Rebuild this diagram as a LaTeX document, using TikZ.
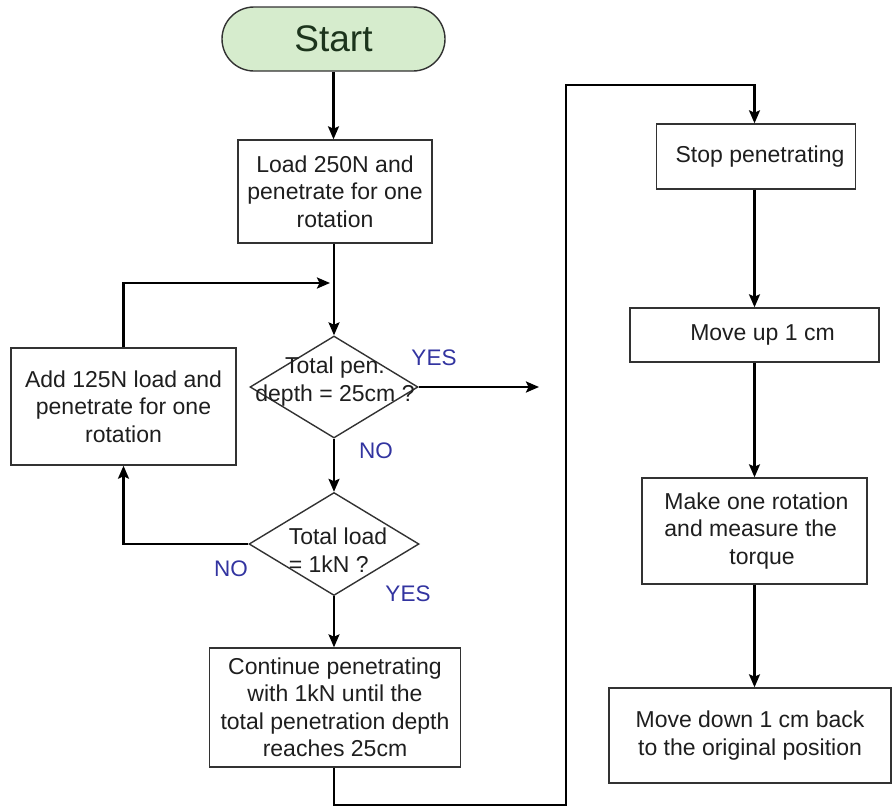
\documentclass[tikz,border=0pt]{standalone}
\usepackage{fontspec}
\setmainfont{Liberation Sans}
\usetikzlibrary{shapes.geometric,arrows.meta}
\definecolor{lblblue}{RGB}{50,52,160}
\definecolor{startfill}{RGB}{214,236,205}
\definecolor{starttext}{RGB}{28,52,28}
\definecolor{boxline}{RGB}{50,50,50}
\definecolor{bodytext}{RGB}{30,30,30}
\tikzset{
  txt/.style={font=\fontsize{23}{27.5}\selectfont, text=bodytext},
  procbox/.style={draw=boxline, line width=1.4pt, rectangle, inner sep=0pt, txt, align=center},
  decbox/.style={draw=boxline, line width=1.4pt, diamond, inner sep=0pt},
  lbl/.style={text=lblblue, font=\fontsize{22.5}{26}\selectfont},
  conn/.style={line width=2.3pt, draw=black, -{Stealth[length=13pt,width=11pt,inset=2.5pt]}},
  plain/.style={line width=2.3pt, draw=black}
}
\begin{document}
\begin{tikzpicture}[x=1pt,y=-1pt]
\useasboundingbox (0,0) rectangle (894,809);
% nodes
\node[draw=boxline, line width=1.4pt, fill=startfill, rounded corners=32pt,
      minimum width=223pt, minimum height=64pt, inner sep=0pt,
      text=starttext, font=\fontsize{37}{44}\selectfont] (start) at (333.5,39) {Start};
\node[procbox, minimum width=194pt, minimum height=103pt] (b1) at (335,191.5)
  {Load 250N and\\penetrate for one\\rotation};
\node[decbox, minimum width=168pt, minimum height=102pt] (d1) at (334,387) {};
\node[txt, align=center, inner sep=0pt] (d1t) at (335,381.5) {Total pen.\\depth = 25cm ?};
\node[decbox, minimum width=170pt, minimum height=103pt] (d2) at (334,544) {};
\node[txt, align=left, inner sep=0pt] (d2t) at (338,550) {Total load\\= 1kN ?};
\node[procbox, minimum width=225pt, minimum height=117pt] (add) at (123.5,406.5)
  {Add 125N load and\\penetrate for one\\rotation};
\node[procbox, minimum width=251pt, minimum height=119pt] (b3) at (335,707.5)
  {Continue penetrating\\with 1kN until the\\total penetration depth\\reaches 25cm};
\node[procbox, minimum width=199pt, minimum height=65pt] (b4) at (756,156.5)
  {\hspace*{8pt}Stop penetrating};
\node[procbox, minimum width=249pt, minimum height=54pt] (b5) at (754.5,335)
  {\hspace*{16pt}Move up 1 cm};
\node[procbox, minimum width=225pt, minimum height=106pt, align=left] (b6) at (754.5,531)
  {\hspace*{4pt}Make one rotation\\\hspace*{4pt}and measure the\\\hspace*{69pt}torque};
\node[procbox, minimum width=282pt, minimum height=95pt] (b7) at (750,735.5)
  {Move down 1 cm back\\to the original position};
% labels
\node[lbl] (yes1) at (434,358) {YES};
\node[lbl] (no1) at (376,451) {NO};
\node[lbl] (no2) at (231,569) {NO};
\node[lbl] (yes2) at (408,594) {YES};
% coordinates
\coordinate (lp) at (330,283);
\coordinate (yesend) at (539,387);
\coordinate (bl) at (566,805);
\coordinate (tl) at (566,85);
% connectors
\draw[conn] (start.south) -- (start.south |- b1.north);
\draw[conn] (b1.south -| d1.north) -- (d1.north);
\draw[conn] (add.north) |- (lp);
\draw[conn] (d1.east) -- (yesend);
\draw[conn] (d1.south) -- (d2.north);
\draw[conn] (d2.west) -| (add.south);
\draw[conn] (d2.south) -- (d2.south |- b3.north);
\draw[conn] (b3.south -| d2.south) |- (bl) -- (tl) -| (b4.north -| b5.north);
\draw[conn] (b4.south -| b5.north) -- (b5.north);
\draw[conn] (b5.south) -- (b6.north);
\draw[conn] (b6.south) -- (b6.south |- b7.north);
\end{tikzpicture}
\end{document}
